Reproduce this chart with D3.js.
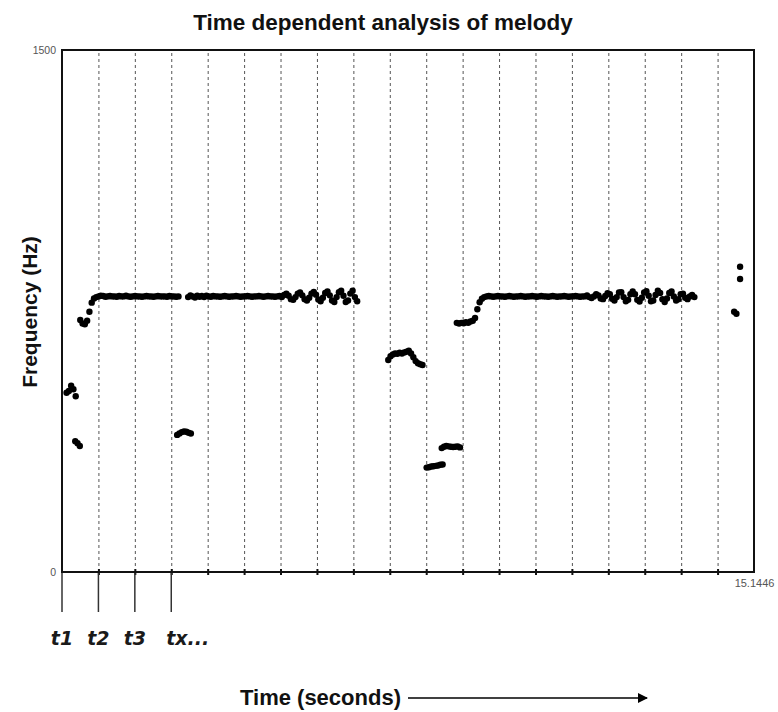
<!DOCTYPE html>
<html><head><meta charset="utf-8">
<script src="https://cdn.jsdelivr.net/npm/d3@7"></script>
<style>
html,body{margin:0;padding:0;background:#fff;}
svg{display:block;}
</style></head>
<body>
<svg id="chart" width="778" height="712"></svg>
<script>
// ---------------- data ----------------
const title = "Time dependent analysis of melody";
const yLabel = "Frequency (Hz)";
const xLabel = "Time (seconds)";
const xMax = 15.1446;
const yMax = 1500;
const gridCount = 19;                 // number of time frames between grid lines
const frameLabels = ["t1", "t2", "t3", "tx..."];
const hop = 0.05;                     // pitch-track hop (s)
const segStart = [0.10, 0.29, 0.40, 2.52, 2.76, 7.14, 7.98, 8.31, 8.64];

const seg1Hz = [515, 520, 535, 525, 505];
const seg2Hz = [376, 370, 362];
const seg3Hz = [724, 714, 712, 722, 748, 774, 786, 790,
  792, 794, 793, 791, 792, 793, 792, 792, 791, 793, 792, 792,
  794, 792, 791, 792, 793, 792, 792, 791, 792, 793, 792, 792,
  791, 792, 793, 792, 792, 792, 791, 793, 792, 792, 791, 792];
const seg4Hz = [394, 398, 402, 404, 403, 400, 398];
const seg5Hz = [790, 795, 792, 789, 794, 791, 793, 790, 794, 792,
  791, 793, 792, 792, 791, 792, 793, 792, 791, 792,
  792, 793, 792, 791, 792, 792, 793, 792, 791, 792,
  792, 793, 792, 791, 792, 793, 792, 792, 791, 792, 793,
  790, 796, 800, 794, 784, 782, 790, 800, 803, 795,
  784, 780, 788, 800, 805, 797, 783, 778, 788, 802,
  806, 795, 780, 776, 790, 804, 808, 794, 776, 780,
  800, 808, 790, 778];
const seg6Hz = [609, 620, 625, 628, 627, 630, 628, 631, 633, 636, 628, 617, 606, 600, 597, 595];
const seg7Hz = [300, 301, 303, 304, 305, 306, 308, 309];
const seg8Hz = [356, 360, 362, 361, 360, 359, 360, 361, 358];
const seg9Hz = [716, 714, 716, 715, 718, 716, 720, 722, 730, 755, 775, 785, 790,
  792, 793, 792, 791, 792, 793, 792, 792, 791, 792, 793, 792, 791, 792, 792,
  793, 792, 791, 792, 792, 793, 792, 791, 792, 793, 792, 792, 791, 792, 793,
  792, 791, 792, 792, 793, 792, 791, 792, 792, 793, 792, 791, 792,
  792, 795, 790, 787, 792, 798, 795, 786, 784, 793,
  801, 798, 785, 780, 790, 803, 804, 790, 778, 782,
  798, 806, 798, 782, 777, 788, 803, 807, 794, 778,
  780, 796, 808, 802, 784, 776, 786, 802, 806, 792,
  780, 784, 798, 800, 788, 784, 792, 796, 790];
const loneT  = [14.71, 14.76, 14.84, 14.84];
const loneHz = [748, 742, 842, 877];

// ---------------- build points ----------------
const segs = [seg1Hz, seg2Hz, seg3Hz, seg4Hz, seg5Hz, seg6Hz, seg7Hz, seg8Hz, seg9Hz];
const points = [];
segs.forEach((arr, k) => arr.forEach((f, i) => points.push({t: segStart[k] + i * hop, f})));
loneT.forEach((t, i) => points.push({t, f: loneHz[i]}));

// ---------------- layout ----------------
const svg = d3.select("#chart");
const L = 62, R = 754, T = 50, B = 572;
const x = d3.scaleLinear().domain([0, xMax]).range([L, R]);
const y = d3.scaleLinear().domain([0, yMax]).range([B, T]);
const frame = xMax / gridCount;
const gridVals = d3.range(1, gridCount).map(i => i * frame);

// grid lines (dashed)
svg.append("g")
  .attr("transform", `translate(0,${B})`)
  .call(d3.axisBottom(x).tickValues(gridVals).tickSize(-(B - T)).tickFormat(""))
  .call(g => g.select(".domain").remove())
  .call(g => g.selectAll(".tick line")
      .attr("stroke", "#555").attr("stroke-width", 1).attr("stroke-dasharray", "3,3"));

// small tick marks on the time axis
svg.append("g")
  .attr("transform", `translate(0,${B})`)
  .call(d3.axisBottom(x).tickValues(gridVals).tickSize(3).tickFormat(""))
  .call(g => g.select(".domain").remove())
  .call(g => g.selectAll(".tick line").attr("stroke", "#111").attr("stroke-width", 2)
      .attr("y1", -3));

// frame marker lines under the axis
const frameTimes = frameLabels.map((d, i) => i * frame);
svg.append("g").selectAll("line").data(frameTimes).join("line")
  .attr("x1", d => x(d)).attr("x2", d => x(d))
  .attr("y1", B).attr("y2", 612)
  .attr("stroke", "#333").attr("stroke-width", 1.5);

svg.append("g").selectAll("text").data(frameLabels).join("text")
  .attr("x", (d, i) => i < 3 ? x(frameTimes[i]) : x(frameTimes[i]) - 5)
  .attr("y", 645)
  .attr("text-anchor", (d, i) => i < 3 ? "middle" : "start")
  .attr("font-family", "DejaVu Sans, Verdana, sans-serif")
  .attr("font-style", "italic").attr("font-weight", "bold")
  .attr("font-size", 19)
  .attr("fill", "#1a1a1a")
  .text(d => d);

// plot frame
svg.append("rect")
  .attr("x", L).attr("y", T).attr("width", R - L).attr("height", B - T)
  .attr("fill", "none").attr("stroke", "#111").attr("stroke-width", 2);

// y axis labels (only ends)
const yAx = svg.append("g").attr("transform", `translate(${L},0)`)
  .call(d3.axisLeft(y).tickValues([0, yMax]).tickSize(0).tickPadding(6).tickFormat(d3.format("d")));
yAx.select(".domain").remove();
yAx.selectAll("text").attr("font-family", "Liberation Sans, Arial, sans-serif")
  .attr("font-size", 10.5).attr("fill", "#555");

// x end label
const xAx = svg.append("g").attr("transform", `translate(0,${B})`)
  .call(d3.axisBottom(x).tickValues([xMax]).tickSize(0).tickPadding(7).tickFormat(d => d));
xAx.select(".domain").remove();
xAx.selectAll("text").attr("font-family", "Liberation Sans, Arial, sans-serif")
  .attr("font-size", 11).attr("fill", "#555");

// data points
svg.append("g").selectAll("circle").data(points).join("circle")
  .attr("cx", d => x(d.t)).attr("cy", d => y(d.f)).attr("r", 3.2)
  .attr("fill", "#000");

// title
svg.append("text")
  .attr("x", 383).attr("y", 30)
  .attr("text-anchor", "middle")
  .attr("font-family", "Liberation Sans, Arial, sans-serif")
  .attr("font-weight", "bold").attr("font-size", 22.5).attr("fill", "#111")
  .text(title);

// y label
svg.append("text")
  .attr("transform", "translate(37,312) rotate(-90)")
  .attr("text-anchor", "middle")
  .attr("font-family", "Liberation Sans, Arial, sans-serif")
  .attr("font-weight", "bold").attr("font-size", 21).attr("fill", "#111")
  .text(yLabel);

// x label with arrow
svg.append("text")
  .attr("x", 240).attr("y", 705)
  .attr("font-family", "Liberation Sans, Arial, sans-serif")
  .attr("font-weight", "bold").attr("font-size", 22).attr("fill", "#111")
  .text(xLabel);
svg.append("defs").append("marker")
  .attr("id", "arrow").attr("viewBox", "0 0 10 10").attr("refX", 9).attr("refY", 5)
  .attr("markerWidth", 10).attr("markerHeight", 14).attr("markerUnits", "userSpaceOnUse")
  .attr("orient", "auto")
  .append("path").attr("d", "M0,0 L10,5 L0,10 Z").attr("fill", "#000");
svg.append("line")
  .attr("x1", 408).attr("x2", 647).attr("y1", 698).attr("y2", 698)
  .attr("stroke", "#000").attr("stroke-width", 1.5)
  .attr("marker-end", "url(#arrow)");
</script>
</body></html>
